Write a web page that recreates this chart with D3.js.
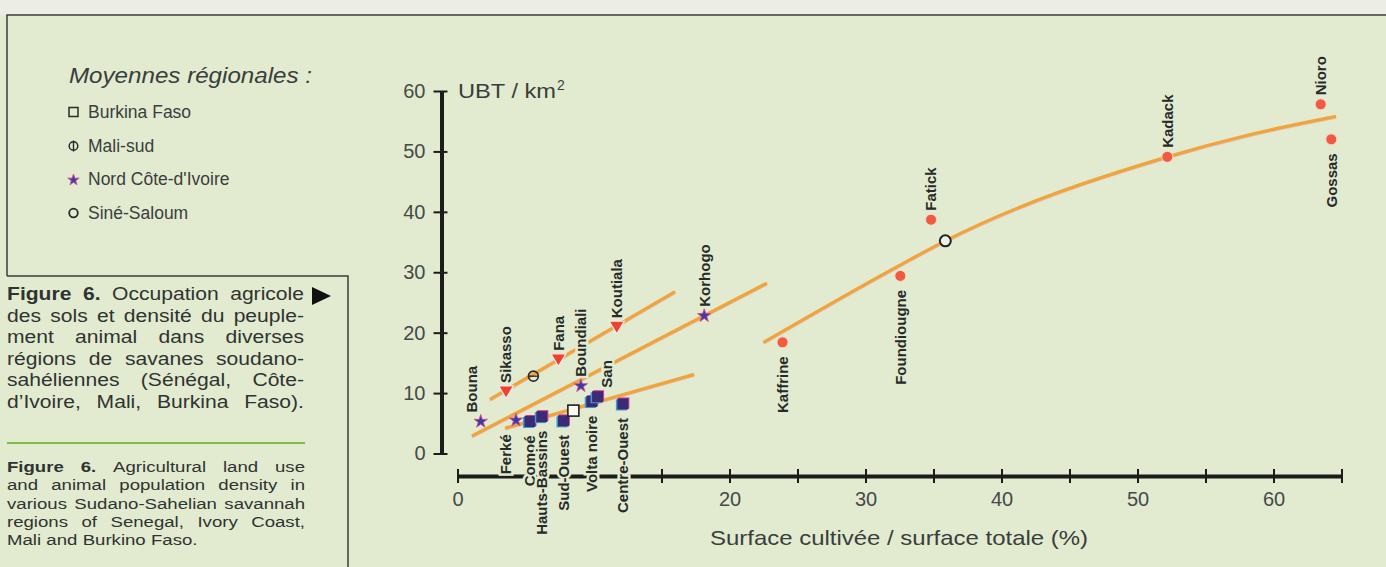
<!DOCTYPE html>
<html>
<head>
<meta charset="utf-8">
<script src="https://cdn.jsdelivr.net/npm/d3@7"></script>
<style>
  body { margin: 0; background: #e2ebd0; }
  svg { display: block; font-family: "Liberation Sans", Arial, sans-serif; }
</style>
</head>
<body>
<svg id="chart"></svg>
<script>
// --- data ---
// [name, % surface cultivée, UBT/km2]
var maliCercles = [["Sikasso", 3.57, 10.2], ["Fana", 7.42, 15.5], ["Koutiala", 11.71, 20.9]];
var coteIvoire = [["Bouna", 1.71, 5.3], ["Ferké", 4.3, 5.5], ["Boundiali", 9.07, 11.2], ["Korhogo", 18.14, 22.8]];
var burkina = [["Comoé", 5.33, 5.3], ["Hauts-Bassins", 6.2, 6.1], ["Sud-Ouest", 7.79, 5.4],
               ["Volta noire", 9.87, 8.6], ["San", 10.3, 9.4], ["Centre-Ouest", 12.16, 8.2]];
var senegal = [["Kaffrine", 23.9, 18.4], ["Foundiougne", 32.56, 29.4], ["Fatick", 34.82, 38.7],
               ["Kadack", 52.19, 49.1], ["Nioro", 63.47, 57.8], ["Gossas", 64.25, 52.0]];

// regional means
var meanBurkina = [8.52, 7.1];
var meanMaliSud = [5.58, 12.8];
var meanSineSaloum = [35.87, 35.2];

// fitted lines, as drawn
var lineMali = [[2.39, 8.97], [16.0, 26.8]];
var lineCI = [[1.07, 2.9], [22.75, 28.2]];
var lineBurkina = [[3.5, 4.2], [17.4, 13.1]];
var lineSenegal = [[22.5, 18.4], [32.3, 30.9], [35.87, 35.2], [52.2, 49.1], [58.3, 52.8], [64.6, 55.8]];

var xTicks = d3.range(0, 66, 5);
var xTickLabels = [0, 20, 30, 40, 50, 60];
var yTicks = [0, 10, 20, 30, 40, 50, 60];

var legendItems = ["Burkina Faso", "Mali-sud", "Nord Côte-d'Ivoire", "Siné-Saloum"];

var captionFr = ["Figure 6. Occupation agricole", "des sols et densité du peuple-", "ment animal dans diverses",
                 "régions de savanes soudano-", "sahéliennes (Sénégal, Côte-", "d’Ivoire, Mali, Burkina Faso)."];
var captionEn = ["Figure 6. Agricultural land use", "and animal population density in", "various Sudano-Sahelian savannah",
                 "regions of Senegal, Ivory Coast,", "Mali and Burkino Faso."];

// --- drawing ---
var width = 1386,
    height = 567;

var bg = "#e2ebd0",
    ink = "#262a28",
    orange = "#f0a43a";

var svg = d3.select("#chart")
    .attr("width", width)
    .attr("height", height);

svg.append("rect").attr("width", width).attr("height", height).attr("fill", bg);
svg.append("rect").attr("width", width).attr("height", 15).attr("fill", "#eceee6");

// frame
svg.append("path")
    .attr("d", "M7,276V15H1386M7,276H348V567")
    .attr("fill", "none")
    .attr("stroke", "#3a3c3a")
    .attr("stroke-width", 1.5);

var x = d3.scaleLinear().domain([0, 65]).range([457.5, 1341.5]);
var y = d3.scaleLinear().domain([0, 60]).range([453.5, 91]);

// axes
var xAxis = d3.axisBottom(x)
    .tickValues(xTicks)
    .tickSizeInner(7)
    .tickSizeOuter(0)
    .tickPadding(9)
    .tickFormat(function(d) { return xTickLabels.indexOf(d) >= 0 ? d : ""; });

var gx = svg.append("g")
    .attr("transform", "translate(0,476)")
    .call(xAxis);
gx.select(".domain").attr("stroke", "#1c1c1c").attr("stroke-width", 4);
gx.selectAll(".tick line").attr("y1", -7).attr("y2", 7).attr("stroke", "#1c1c1c").attr("stroke-width", 2);
gx.selectAll(".tick text").attr("font-size", 20).attr("fill", "#454a48").attr("font-family", null);

var yAxis = d3.axisLeft(y)
    .tickValues(yTicks)
    .tickSizeInner(8)
    .tickSizeOuter(0)
    .tickPadding(8);

var gy = svg.append("g")
    .attr("transform", "translate(441.5,0)")
    .call(yAxis);
gy.select(".domain").attr("stroke", "#1c1c1c").attr("stroke-width", 4);
gy.selectAll(".tick line").attr("x1", -8).attr("x2", 6).attr("stroke", "#1c1c1c").attr("stroke-width", 2);
gy.selectAll(".tick text").attr("font-size", 20).attr("fill", "#454a48").attr("font-family", null);

svg.append("text")
    .attr("x", 458).attr("y", 98)
    .attr("font-size", 21)
    .attr("fill", "#3a3e3c")
    .attr("textLength", 98)
    .attr("lengthAdjust", "spacingAndGlyphs")
    .text("UBT / km");
svg.append("text")
    .attr("x", 557).attr("y", 90)
    .attr("font-size", 14)
    .attr("fill", "#3a3e3c")
    .text("2");

svg.append("text")
    .attr("x", 710).attr("y", 545)
    .attr("font-size", 21)
    .attr("fill", "#3a3e3c")
    .attr("textLength", 378)
    .attr("lengthAdjust", "spacingAndGlyphs")
    .text("Surface cultivée / surface totale (%)");

// trend lines
var line = d3.line().x(function(d) { return x(d[0]); }).y(function(d) { return y(d[1]); });
var curve = d3.line().curve(d3.curveMonotoneX).x(function(d) { return x(d[0]); }).y(function(d) { return y(d[1]); });

var trends = svg.append("g").attr("fill", "none").attr("stroke-linecap", "butt");
[lineMali, lineCI, lineBurkina].forEach(function(l) {
    trends.append("path").attr("d", line(l)).attr("stroke", "#d86a9a").attr("stroke-width", 3).attr("opacity", 0.35).attr("transform", "translate(0,1)");
    trends.append("path").attr("d", line(l)).attr("stroke", orange).attr("stroke-width", 3.2);
});
trends.append("path").attr("d", curve(lineSenegal)).attr("stroke", "#d86a9a").attr("stroke-width", 3).attr("opacity", 0.35).attr("transform", "translate(0,1)");
trends.append("path").attr("d", curve(lineSenegal)).attr("stroke", orange).attr("stroke-width", 3.2);

// point labels (rotated, with halo)
var below = ["Ferké", "Comoé", "Hauts-Bassins", "Sud-Ouest", "Volta noire", "Centre-Ouest", "Kaffrine", "Foundiougne", "Gossas"];
var nudge = { "Bouna": -9, "Ferké": -10, "San": 9 };

var allPoints = maliCercles.concat(coteIvoire, burkina, senegal);

svg.append("g").selectAll("text")
    .data(allPoints)
    .enter()
    .append("text")
    .attr("transform", function(d) {
        var isBelow = below.indexOf(d[0]) >= 0;
        var px = x(d[1]) + (nudge[d[0]] || 0);
        var py = y(d[2]) + (isBelow ? 14 : -9);
        return "translate(" + px + "," + py + ") rotate(-90)";
    })
    .attr("text-anchor", function(d) { return below.indexOf(d[0]) >= 0 ? "end" : "start"; })
    .attr("dy", "0.36em")
    .attr("font-size", 15)
    .attr("font-weight", "bold")
    .attr("fill", ink)
    .attr("stroke", bg)
    .attr("stroke-width", 5)
    .attr("paint-order", "stroke")
    .text(function(d) { return d[0]; });

// markers
function drawStar(g, cx, cy, size) {
    g.append("path").attr("d", d3.symbol(d3.symbolStar).size(size || 55)())
        .attr("transform", "translate(" + cx + "," + cy + ")")
        .attr("fill", "#3a3c9e")
        .attr("stroke", "#cf4b9c")
        .attr("stroke-width", 0.9);
}

var marks = svg.append("g");

coteIvoire.forEach(function(d) { drawStar(marks, x(d[1]), y(d[2])); });

maliCercles.forEach(function(d) {
    marks.append("path")
        .attr("d", "M-7.5,-6L7.5,-6L0,6.5Z")
        .attr("transform", "translate(" + x(d[1]) + "," + y(d[2]) + ")")
        .attr("fill", "#ef4130")
        .attr("stroke", "#f5ece4")
        .attr("stroke-width", 1.2);
});

senegal.forEach(function(d) {
    marks.append("circle")
        .attr("cx", x(d[1])).attr("cy", y(d[2])).attr("r", 5.5)
        .attr("fill", "#f25a40")
        .attr("stroke", "#f3dccb")
        .attr("stroke-width", 1);
});

burkina.forEach(function(d) {
    var cx = x(d[1]), cy = y(d[2]);
    marks.append("rect").attr("x", cx - 7).attr("y", cy - 4.5).attr("width", 11).attr("height", 11).attr("fill", "#3a9fd6");
    marks.append("rect").attr("x", cx - 4.5).attr("y", cy - 6.5).attr("width", 11).attr("height", 11).attr("fill", "#d6399a");
    marks.append("rect").attr("x", cx - 5.5).attr("y", cy - 5.5).attr("width", 11).attr("height", 11).attr("fill", "#3b2a74");
});

// regional means
marks.append("rect")
    .attr("x", x(meanBurkina[0]) - 5.5).attr("y", y(meanBurkina[1]) - 5.5)
    .attr("width", 11).attr("height", 11)
    .attr("fill", "#fbfbf6").attr("stroke", "#222").attr("stroke-width", 1.6);

marks.append("circle")
    .attr("cx", x(meanMaliSud[0])).attr("cy", y(meanMaliSud[1])).attr("r", 5)
    .attr("fill", "none").attr("stroke", "#2a2a2a").attr("stroke-width", 1.6);
marks.append("line")
    .attr("x1", x(meanMaliSud[0]) - 5).attr("x2", x(meanMaliSud[0]) + 5)
    .attr("y1", y(meanMaliSud[1])).attr("y2", y(meanMaliSud[1]))
    .attr("stroke", "#2a2a2a").attr("stroke-width", 1.4);

marks.append("circle")
    .attr("cx", x(meanSineSaloum[0])).attr("cy", y(meanSineSaloum[1])).attr("r", 5.5)
    .attr("fill", "#eef2e6").attr("stroke", "#222").attr("stroke-width", 2);

// legend
var legend = svg.append("g").attr("fill", "#3a3e3c");

legend.append("text")
    .attr("x", 69).attr("y", 83)
    .attr("font-size", 22.5)
    .attr("font-style", "italic")
    .attr("textLength", 243)
    .attr("lengthAdjust", "spacingAndGlyphs")
    .text("Moyennes régionales :");

legend.selectAll(".item")
    .data(legendItems)
    .enter()
    .append("text")
    .attr("class", "item")
    .attr("x", 88)
    .attr("y", function(d, i) { return 118 + i * 33.7; })
    .attr("font-size", 17.5)
    .text(function(d) { return d; });

var lx = 73.5;
legend.append("rect").attr("x", lx - 4.5).attr("y", 107.5).attr("width", 9).attr("height", 9)
    .attr("fill", "none").attr("stroke", "#2a2a2a").attr("stroke-width", 1.5);
legend.append("circle").attr("cx", lx).attr("cy", 146).attr("r", 4.3)
    .attr("fill", "none").attr("stroke", "#2a2a2a").attr("stroke-width", 1.5);
legend.append("line").attr("x1", lx).attr("x2", lx).attr("y1", 140.5).attr("y2", 151.5)
    .attr("stroke", "#2a2a2a").attr("stroke-width", 1.4);
drawStar(legend, lx, 180, 40);
legend.append("circle").attr("cx", lx).attr("cy", 213).attr("r", 4.3)
    .attr("fill", "none").attr("stroke", "#2a2a2a").attr("stroke-width", 1.8);

// captions: justified by spreading words, glyphs widened like the print
function justifyLines(g, lines, y0, step, w, lastNatural) {
    lines.forEach(function(t, i) {
        var words = t.split(" ");
        var tx = g.append("text").attr("y", y0 + i * step);
        var spans = words.map(function(wd, k) {
            return tx.append("tspan")
                .attr("font-weight", i === 0 && k < 2 ? "bold" : null)
                .text(wd);
        });
        var widths = spans.map(function(s) { return s.node().getComputedTextLength(); });
        var gap = (w - d3.sum(widths)) / (words.length - 1);
        if (lastNatural && i === lines.length - 1) gap = 4.4;
        var cx = 0;
        spans.forEach(function(s, k) { s.attr("x", cx); cx += widths[k] + gap; });
    });
}

var sxFr = 1.14;
var capFr = svg.append("g")
    .attr("transform", "translate(7,0) scale(" + sxFr + ",1)")
    .attr("fill", "#2f3331").attr("font-size", 18.5);
justifyLines(capFr, captionFr, 300, 21.6, 297 / sxFr, false);

svg.append("path")
    .attr("d", "M312,287L331,296L312,305Z")
    .attr("fill", "#111");

svg.append("line")
    .attr("x1", 7).attr("x2", 305)
    .attr("y1", 443).attr("y2", 443)
    .attr("stroke", "#7dc142")
    .attr("stroke-width", 2);

var sxEn = 1.2;
var capEn = svg.append("g")
    .attr("transform", "translate(7,0) scale(" + sxEn + ",1)")
    .attr("fill", "#2f3331").attr("font-size", 15.5);
justifyLines(capEn, captionEn, 472, 18.3, 298 / sxEn, true);
</script>
</body>
</html>
